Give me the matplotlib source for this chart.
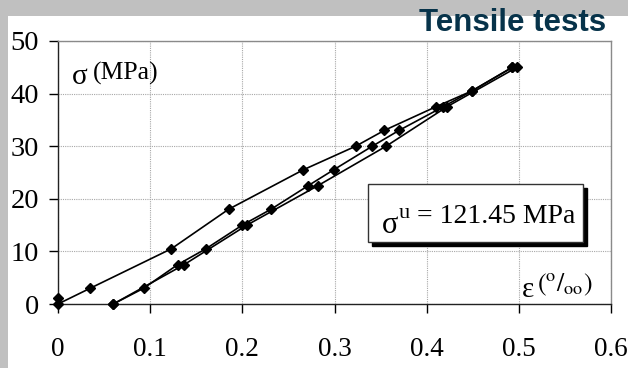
import matplotlib
matplotlib.use("Agg")
import matplotlib.pyplot as plt
from matplotlib.patches import Rectangle

plt.rcParams['font.family'] = ['Liberation Serif', 'DejaVu Serif']
plt.rcParams['mathtext.fontset'] = 'stix'

# ---- data (strain in per mille, stress in MPa) ----
eps_1 = [0.0, 0.0, 0.035, 0.123, 0.185, 0.266, 0.323, 0.354, 0.410, 0.449, 0.493]
sig_1 = [1.2, 0.0, 3.0, 10.5, 18.0, 25.5, 30.0, 33.0, 37.5, 40.5, 45.0]

eps_2 = [0.060, 0.093, 0.130, 0.1605, 0.200, 0.231, 0.2715, 0.299, 0.341, 0.370, 0.418, 0.449, 0.493]
sig_2 = [0.0, 3.0, 7.5, 10.5, 15.0, 18.0, 22.5, 25.5, 30.0, 33.0, 37.5, 40.5, 45.0]

eps_3 = [0.060, 0.137, 0.205, 0.282, 0.356, 0.422, 0.498]
sig_3 = [0.0, 7.5, 15.0, 22.5, 30.0, 37.5, 45.0]

x_ticks = [0, 0.1, 0.2, 0.3, 0.4, 0.5, 0.6]
x_tick_labels = ['0', '0.1', '0.2', '0.3', '0.4', '0.5', '0.6']
y_ticks = [0, 10, 20, 30, 40, 50]
y_tick_labels = ['0', '10', '20', '30', '40', '50']

title = 'Tensile tests'
strength_label = '= 121.45 MPa'

W, H = 628, 368
fig = plt.figure(figsize=(W / 100, H / 100), dpi=100)
fig.patch.set_facecolor('white')


def fx(x):
    return x / W


def fy(y):
    return 1 - y / H


gray = '#c0c0c0'
fig.patches.append(Rectangle((0, 0), fx(8), 1, transform=fig.transFigure,
                             facecolor=gray, edgecolor='none', zorder=0))
fig.patches.append(Rectangle((0, fy(16)), 1, 16 / H, transform=fig.transFigure,
                             facecolor=gray, edgecolor='none', zorder=0))

ax = fig.add_axes([fx(58), fy(304), 553 / W, 263 / H])
ax.set_facecolor('white')

for ex, sg in [(eps_1, sig_1), (eps_2, sig_2), (eps_3, sig_3)]:
    ax.plot(ex, sg, color='black', lw=1.2, marker='D', markersize=5,
            markerfacecolor='black', markeredgecolor='black', clip_on=False, zorder=3)

ax.set_xlim(0, 0.6)
ax.set_ylim(0, 50)
ax.set_xticks(x_ticks)
ax.set_xticklabels(x_tick_labels, fontsize=19.5)
ax.set_yticks(y_ticks)
ax.set_yticklabels(y_tick_labels, fontsize=20.5)
ax.tick_params(axis='x', direction='out', length=6.5, width=1, pad=17, colors='black')
ax.tick_params(axis='y', direction='out', length=6.5, width=1, pad=7, colors='black')
ax.grid(True, color='#a8a8a8', linestyle=(0, (1, 1)), lw=0.8)
ax.set_axisbelow(True)
for s in ['top', 'right']:
    ax.spines[s].set_color('#8a8a8a')
    ax.spines[s].set_linewidth(1.0)
for s in ['left', 'bottom']:
    ax.spines[s].set_color('#222222')
    ax.spines[s].set_linewidth(1.0)

# title
fig.text(fx(606), fy(31), title, ha='right', va='baseline', fontsize=22.5,
         fontweight='bold', family='Liberation Sans', color='#07334a')

# axis labels
fig.text(fx(72), fy(84), '\u03c3', ha='left', va='baseline', fontsize=21)
fig.text(fx(93), fy(80), '(MPa)', ha='left', va='baseline', fontsize=18.5)
fig.text(fx(522), fy(297), '\u03b5', ha='left', va='baseline', fontsize=21)
fig.text(fx(537), fy(291), r'$(^{\mathrm{o}}/_{\mathrm{oo}})$', ha='left', va='baseline', fontsize=18.5)

# annotation box with shadow
bx0, bx1, by0, by1 = 368, 583, 184, 242
off = 4
fig.patches.append(Rectangle((fx(bx0 + off), fy(by1 + off)), (bx1 - bx0) / W, (by1 - by0) / H,
                             transform=fig.transFigure, facecolor='black', edgecolor='black',
                             zorder=5))
fig.patches.append(Rectangle((fx(bx0), fy(by1)), (bx1 - bx0) / W, (by1 - by0) / H,
                             transform=fig.transFigure, facecolor='white', edgecolor='#333333',
                             lw=1.0, zorder=6))
fig.text(fx(382), fy(233), '\u03c3', ha='left', va='baseline', fontsize=22, zorder=7)
fig.text(fx(399), fy(218), 'u', ha='left', va='baseline', fontsize=16, zorder=7)
fig.text(fx(417), fy(223), strength_label, ha='left', va='baseline', fontsize=20, zorder=7)

fig.savefig('out.png', dpi=100, facecolor=fig.get_facecolor())
